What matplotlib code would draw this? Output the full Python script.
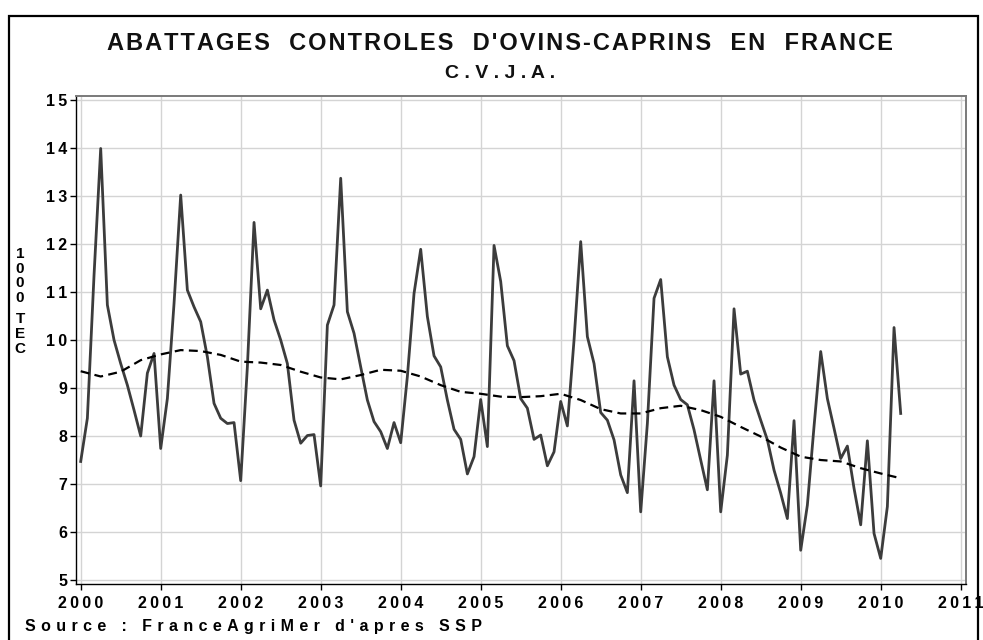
import numpy as np
import matplotlib
matplotlib.use("Agg")
import matplotlib.pyplot as plt
from matplotlib.patches import Rectangle
from matplotlib.ticker import FixedLocator, FuncFormatter

plt.rcParams['font.family'] = ['Liberation Sans', 'DejaVu Sans']
plt.rcParams['font.weight'] = 'bold'

# abattages mensuels, 1000 TEC, janvier 2000 -> avril 2010
tonnage = [
    7.47, 8.37, 11.35, 13.99, 10.73, 10.00, 9.51, 9.06, 8.54, 8.00, 9.31, 9.72,   # 2000
    7.74, 8.78, 10.76, 13.02, 11.04, 10.69, 10.38, 9.65, 8.68, 8.37, 8.26, 8.28,  # 2001
    7.07, 9.44, 12.45, 10.65, 11.04, 10.42, 10.00, 9.51, 8.33, 7.85, 8.01, 8.03,  # 2002
    6.96, 10.31, 10.73, 13.37, 10.59, 10.14, 9.44, 8.75, 8.30, 8.09, 7.74, 8.28,  # 2003
    7.86, 9.24, 10.97, 11.89, 10.49, 9.67, 9.44, 8.75, 8.14, 7.93, 7.21, 7.57,    # 2004
    8.76, 7.78, 11.97, 11.22, 9.88, 9.57, 8.78, 8.58, 7.93, 8.02, 7.38, 7.67,     # 2005
    8.72, 8.21, 10.00, 12.05, 10.07, 9.51, 8.49, 8.33, 7.92, 7.19, 6.82, 9.15,    # 2006
    6.42, 8.26, 10.87, 11.26, 9.65, 9.06, 8.76, 8.65, 8.13, 7.50, 6.88, 9.15,     # 2007
    6.42, 7.60, 10.65, 9.29, 9.35, 8.75, 8.33, 7.92, 7.29, 6.81, 6.28, 8.32,      # 2008
    5.62, 6.56, 8.20, 9.76, 8.78, 8.16, 7.53, 7.79, 6.91, 6.15, 7.90, 5.97,       # 2009
    5.45, 6.53, 10.26, 8.47,                                                      # 2010
]

# tendance (pointillés), lue par trimestre : jan, avr, juil, oct
tendance = [
    9.35, 9.24, 9.34, 9.58,
    9.70, 9.79, 9.77, 9.69,
    9.55, 9.53, 9.48, 9.34,
    9.22, 9.18, 9.27, 9.38,
    9.36, 9.24, 9.06, 8.92,
    8.88, 8.82, 8.81, 8.83,
    8.88, 8.75, 8.56, 8.47,
    8.47, 8.58, 8.63, 8.54,
    8.40, 8.19, 7.99, 7.76,
    7.57, 7.50, 7.47, 7.33,
    7.22, 7.12,
]

annees = list(range(2000, 2012))
yticks = list(range(5, 16))


def tracked(s, gap='\u2009'):
    # imite l'espacement des lettres de l'original
    return gap.join(s)


x_mois = 2000 + np.arange(len(tonnage)) / 12.0
x_trim = 2000 + np.arange(len(tendance)) / 4.0

fig = plt.figure(figsize=(9.83, 6.40), dpi=100)
ax = fig.add_axes([75.7 / 983, 1 - 584 / 640, (965.7 - 75.7) / 983, (584 - 95.7) / 640])

ax.plot(x_mois, tonnage, color='#3c3c3c', lw=2.0, zorder=3)
ax.plot(x_trim, tendance, color='black', lw=1.6, ls=(0, (4, 2.4)), zorder=4)

ax.set_xlim(1999.9375, 2011.0625)
ax.set_ylim(4.917, 15.09)
ax.xaxis.set_major_locator(FixedLocator(annees))
ax.yaxis.set_major_locator(FixedLocator(yticks))
ax.xaxis.set_major_formatter(FuncFormatter(lambda v, p: tracked(str(int(round(v))))))
ax.yaxis.set_major_formatter(FuncFormatter(lambda v, p: tracked(str(int(round(v))))))
ax.tick_params(axis='both', direction='out', length=4, width=1, color='black',
               labelsize=11.5, labelcolor='black')
ax.tick_params(axis='x', pad=5)
ax.tick_params(axis='y', pad=2)
ax.grid(True, color='#d4d4d4', lw=1.0, zorder=0)
ax.set_axisbelow(True)

for side in ('left', 'bottom'):
    ax.spines[side].set_color('black')
    ax.spines[side].set_linewidth(1.0)
for side in ('top', 'right'):
    ax.spines[side].set_color('#7a7a7a')
    ax.spines[side].set_linewidth(1.4)

# titres
fig.text(500 / 983, 1 - 43 / 640, tracked("ABATTAGES  CONTROLES  D'OVINS-CAPRINS  EN  FRANCE", '\u200a'),
         ha='center', va='center', fontsize=17, color='#111111')
fig.text(500 / 983, 1 - 74 / 640, tracked("C.V.J.A.", ' '),
         ha='center', va='center', fontsize=14, color='#111111')

# libellé vertical de l'axe y
fig.text(20 / 983, 1 - 276 / 640, "1\n0\n0\n0", ha='center', va='center',
         fontsize=11, linespacing=1.05)
fig.text(20 / 983, 1 - 334 / 640, "T\nE\nC", ha='center', va='center',
         fontsize=11, linespacing=1.05)

fig.text(25 / 983, 1 - 627 / 640, tracked("Source : FranceAgriMer d'apres SSP", '\u2004'),
         ha='left', va='center', fontsize=11.5)

# cadre noir autour du graphique (ouvert en bas)
fig.add_artist(Rectangle((9 / 983, -0.1), (978 - 9) / 983, 0.1 + 1 - 15.7 / 640,
                         transform=fig.transFigure, fill=False, ec='black', lw=1.6,
                         clip_on=False))

fig.savefig("out.png", dpi=100)
